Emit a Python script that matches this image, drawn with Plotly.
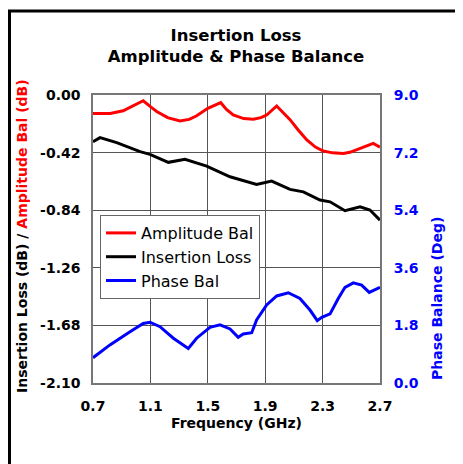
import plotly.graph_objects as go

# ---- data ----
amp_freq = [0.70, 0.82, 0.91, 0.98, 1.05, 1.10, 1.144, 1.22, 1.306, 1.37, 1.42, 1.50, 1.59,
            1.63, 1.677, 1.75, 1.817, 1.87, 1.91, 1.98, 2.03, 2.073, 2.13, 2.19, 2.25, 2.305,
            2.37, 2.444, 2.49, 2.537, 2.60, 2.653, 2.70]
amp_bal = [-0.135, -0.135, -0.115, -0.08, -0.042, -0.085, -0.12, -0.165, -0.19, -0.178, -0.153,
           -0.097, -0.056, -0.105, -0.146, -0.172, -0.177, -0.165, -0.146, -0.08, -0.13, -0.18,
           -0.255, -0.328, -0.38, -0.409, -0.422, -0.426, -0.418, -0.40, -0.372, -0.353, -0.38]

il_freq = [0.70, 0.749, 0.865, 1.028, 1.097, 1.225, 1.341, 1.492, 1.655, 1.84, 1.945, 2.073,
           2.166, 2.282, 2.352, 2.456, 2.561, 2.63, 2.70]
ins_loss = [-0.341, -0.311, -0.347, -0.413, -0.433, -0.491, -0.469, -0.518, -0.596, -0.652,
            -0.628, -0.688, -0.706, -0.766, -0.779, -0.844, -0.815, -0.839, -0.912]

ph_freq = [0.70, 0.818, 0.958, 1.05, 1.097, 1.167, 1.26, 1.364, 1.422, 1.515, 1.585, 1.655,
           1.712, 1.747, 1.806, 1.84, 1.91, 1.98, 2.061, 2.142, 2.212, 2.263, 2.294, 2.352,
           2.409, 2.456, 2.514, 2.572, 2.625, 2.70]
ph_bal = [0.79, 1.19, 1.60, 1.86, 1.90, 1.76, 1.40, 1.08, 1.40, 1.74, 1.82, 1.69, 1.43, 1.53,
          1.57, 1.97, 2.44, 2.72, 2.82, 2.64, 2.28, 1.95, 2.05, 2.16, 2.64, 2.99, 3.13, 3.06,
          2.83, 2.99]

x_ticks = [0.7, 1.1, 1.5, 1.9, 2.3, 2.7]
x_tick_labels = ["0.7", "1.1", "1.5", "1.9", "2.3", "2.7"]
y_ticks = [0.00, -0.42, -0.84, -1.26, -1.68, -2.10]
y_tick_labels = ["0.00", "-0.42", "-0.84", "-1.26", "-1.68", "-2.10"]
y2_ticks = [9.0, 7.2, 5.4, 3.6, 1.8, 0.0]
y2_tick_labels = ["9.0", "7.2", "5.4", "3.6", "1.8", "0.0"]

FONT = "DejaVu Sans"

fig = go.Figure()
fig.add_trace(go.Scatter(x=amp_freq, y=amp_bal, name="Amplitude Bal", mode="lines",
                         line=dict(color="#ff0000", width=3)))
fig.add_trace(go.Scatter(x=il_freq, y=ins_loss, name="Insertion Loss", mode="lines",
                         line=dict(color="#000000", width=3)))
fig.add_trace(go.Scatter(x=ph_freq, y=ph_bal, name="Phase Bal", mode="lines", yaxis="y2",
                         line=dict(color="#0000ff", width=3)))

# page has an 8px body margin; figure coordinates below are page minus 8
W, H = 455, 456
L, T = 85, 87
Rx, By = 372, 375
R, B = W - Rx, H - By
pw, ph = Rx - L, By - T

def pxx(px):
    return (px - L) / pw

def pxy(py):
    return (By - py) / ph

fig.update_layout(
    width=W, height=H,
    margin=dict(l=L, r=R, t=T, b=B, pad=0),
    paper_bgcolor="white", plot_bgcolor="white",
    showlegend=True,
    title=dict(text="<b>Insertion Loss<br>Amplitude & Phase Balance</b>",
               font=dict(family=FONT, size=16.5, color="black"),
               x=pxx(228), xref="paper", xanchor="center",
               y=1 - 33 / H, yanchor="top"),
    legend=dict(x=pxx(92), y=pxy(207), xanchor="left", yanchor="top",
                bgcolor="white", bordercolor="#666666", borderwidth=1,
                font=dict(family=FONT, size=16, color="black"),
                itemwidth=30, tracegroupgap=0),
    xaxis=dict(range=[0.7, 2.7], tickvals=x_ticks, ticktext=[f"<b>{t}</b>" for t in x_tick_labels],
               showgrid=True, gridcolor="#555555", gridwidth=1,
               showline=True, linecolor="#777777", linewidth=1.5, mirror=True,
               ticks="outside", ticklen=9, tickcolor="rgba(0,0,0,0)", zeroline=False,
               tickfont=dict(family=FONT, size=14, color="black")),
    yaxis=dict(range=[-2.10, 0.0], tickvals=y_ticks, ticktext=[f"<b>{t}</b>" for t in y_tick_labels],
               showgrid=True, gridcolor="#555555", gridwidth=1,
               showline=True, linecolor="#777777", linewidth=1.5, mirror=True,
               ticks="outside", ticklen=8, tickcolor="rgba(0,0,0,0)", zeroline=False,
               tickfont=dict(family=FONT, size=14, color="black")),
    yaxis2=dict(range=[0.0, 9.0], tickvals=y2_ticks, ticktext=[f"<b>{t}</b>" for t in y2_tick_labels],
                overlaying="y", side="right", showgrid=False, zeroline=False,
                ticks="outside", ticklen=10, tickcolor="rgba(0,0,0,0)",
                tickfont=dict(family=FONT, size=14, color="#0000ff")),
)

fig.add_annotation(text="<b>Frequency (GHz)</b>", xref="paper", yref="paper",
                   x=pxx(228), y=pxy(415), xanchor="center", yanchor="middle", showarrow=False,
                   font=dict(family=FONT, size=14, color="black"))
fig.add_annotation(text="<b>Insertion Loss (dB) / <span style='color:#ff0000'>Amplitude Bal (dB)</span></b>",
                   textangle=-90, xref="paper", yref="paper",
                   x=pxx(14), y=pxy(228), xanchor="center", yanchor="middle", showarrow=False,
                   font=dict(family=FONT, size=14, color="black"))
fig.add_annotation(text="<b>Phase Balance (Deg)</b>", textangle=-90,
                   xref="paper", yref="paper",
                   x=pxx(429), y=pxy(291),
                   xanchor="center", yanchor="middle", showarrow=False,
                   font=dict(family=FONT, size=14, color="#0000ff"))

# outer frame (extends beyond the right and bottom of the picture)
fig.add_shape(type="rect", xref="paper", yref="paper",
              x0=pxx(1.5), x1=pxx(480), y0=pxy(480), y1=pxy(3),
              line=dict(color="black", width=3), fillcolor="rgba(0,0,0,0)", layer="below")

fig.write_html("out.html")
